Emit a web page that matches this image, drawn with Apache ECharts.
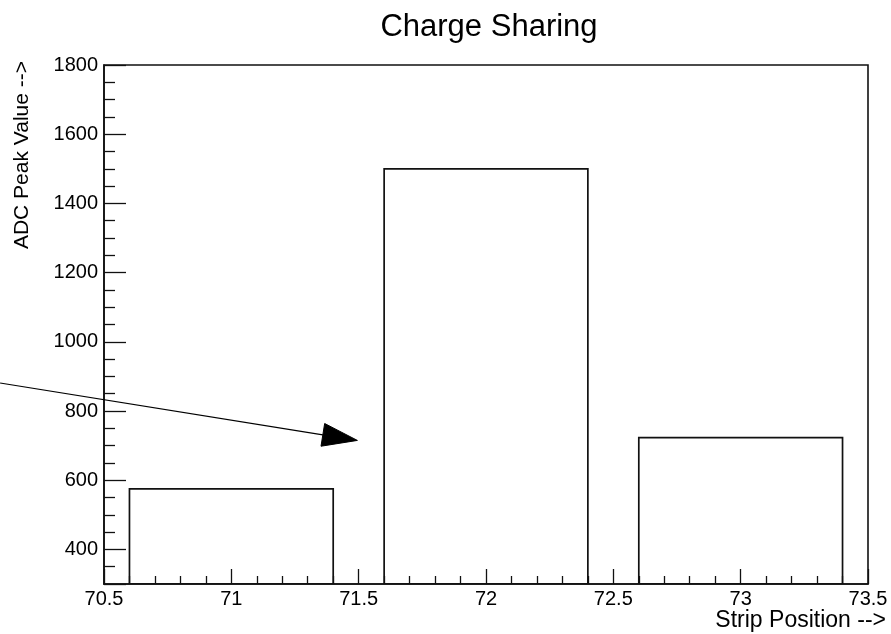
<!DOCTYPE html>
<html>
<head>
<meta charset="utf-8">
<title>Charge Sharing</title>
<script src="https://cdn.jsdelivr.net/npm/echarts@6/dist/echarts.min.js"></script>
<style>
  html, body { margin: 0; padding: 0; background: #fff; }
  #chart { width: 891px; height: 634px; }
</style>
</head>
<body>
<div id="chart"></div>
<script>
// Histogram bins: lower edge, upper edge and ADC peak value per strip
const binLow = [70.6, 71.6, 72.6];
const binHigh = [71.4, 72.4, 73.4];
const adcPeak = [575, 1500, 723];

// Axis ranges
const xRange = [70.5, 73.5];
const yRange = [300, 1800];

// Annotation arrow, in data coordinates (tail -> head)
const arrowTail = [70.092, 881];
const arrowHead = [71.495, 715];

const FONT = '"Liberation Sans", Arial, Helvetica, sans-serif';
const INK = '#000';

const bins = binLow.map((lo, i) => [lo, binHigh[i], adcPeak[i]]);

const chart = echarts.init(document.getElementById('chart'), null, { renderer: 'canvas' });

const option = {
  animation: false,
  backgroundColor: '#fff',
  title: {
    text: 'Charge Sharing',
    left: 484,
    top: 7,
    textAlign: 'center',
    textStyle: { fontFamily: FONT, fontSize: 31, fontWeight: 'normal', color: INK }
  },
  grid: {
    left: 104, top: 65, right: 23, bottom: 50,
    show: true, borderColor: '#111', borderWidth: 1.6, backgroundColor: 'transparent'
  },
  xAxis: {
    type: 'value',
    min: xRange[0], max: xRange[1], interval: 0.5,
    axisLine: { show: true, lineStyle: { color: '#111', width: 1.6 } },
    axisTick: { show: true, inside: true, length: 15, lineStyle: { color: '#111', width: 1.3 } },
    minorTick: { show: true, splitNumber: 5, length: 8, lineStyle: { color: '#111', width: 1.3 } },
    splitLine: { show: false },
    axisLabel: { margin: 5, fontFamily: FONT, fontSize: 20, color: INK }
  },
  yAxis: {
    type: 'value',
    min: yRange[0], max: yRange[1],
    splitNumber: 8, minInterval: 200, maxInterval: 200,
    axisLine: { show: true, lineStyle: { color: '#111', width: 1.6 } },
    axisTick: { show: true, inside: true, length: 22, lineStyle: { color: '#111', width: 1.3 } },
    minorTick: { show: true, splitNumber: 4, length: 11, lineStyle: { color: '#111', width: 1.3 } },
    splitLine: { show: false },
    axisLabel: {
      margin: 6, fontFamily: FONT, fontSize: 20, color: INK,
      showMinLabel: false,
      formatter: v => (v % 200 === 0 ? String(v) : '')
    }
  },
  series: [{
    type: 'custom',
    clip: true,
    data: bins,
    encode: { x: [0, 1], y: 2 },
    renderItem: (params, api) => {
      const top = api.coord([api.value(0), api.value(2)]);
      const bottom = api.coord([api.value(1), yRange[0]]);
      return {
        type: 'rect',
        shape: { x: top[0], y: top[1], width: bottom[0] - top[0], height: bottom[1] - top[1] },
        style: { fill: 'transparent', stroke: '#111', lineWidth: 1.7 }
      };
    }
  }],
  graphic: [
    {
      type: 'text',
      id: 'ytitle',
      x: 22, y: 61,
      rotation: Math.PI / 2,
      style: { text: 'ADC Peak Value -->', fontFamily: FONT, fontSize: 21, fill: INK, align: 'right', verticalAlign: 'middle' }
    },
    {
      type: 'text',
      id: 'xtitle',
      x: 886, y: 621,
      style: { text: 'Strip Position -->', fontFamily: FONT, fontSize: 23, fill: INK, align: 'right', verticalAlign: 'middle' }
    }
  ]
};

chart.setOption(option);

// Arrow annotation: line plus filled triangular head, placed via the grid's scales
function drawArrow() {
  const p0 = chart.convertToPixel({ gridIndex: 0 }, arrowTail);
  const p1 = chart.convertToPixel({ gridIndex: 0 }, arrowHead);
  const dx = p1[0] - p0[0], dy = p1[1] - p0[1];
  const len = Math.hypot(dx, dy);
  const ux = dx / len, uy = dy / len;
  const headLen = 35, headHalf = 11.5;
  const bx = p1[0] - ux * headLen, by = p1[1] - uy * headLen;
  chart.setOption({
    graphic: [
      {
        type: 'line', id: 'arrowLine', z: 100,
        shape: { x1: p0[0], y1: p0[1], x2: bx, y2: by },
        style: { stroke: INK, lineWidth: 1.2 }
      },
      {
        type: 'polygon', id: 'arrowHead', z: 100,
        shape: { points: [[p1[0], p1[1]], [bx - uy * headHalf, by + ux * headHalf], [bx + uy * headHalf, by - ux * headHalf]] },
        style: { fill: INK, stroke: INK, lineWidth: 1 }
      }
    ]
  });
}
drawArrow();
</script>
</body>
</html>
